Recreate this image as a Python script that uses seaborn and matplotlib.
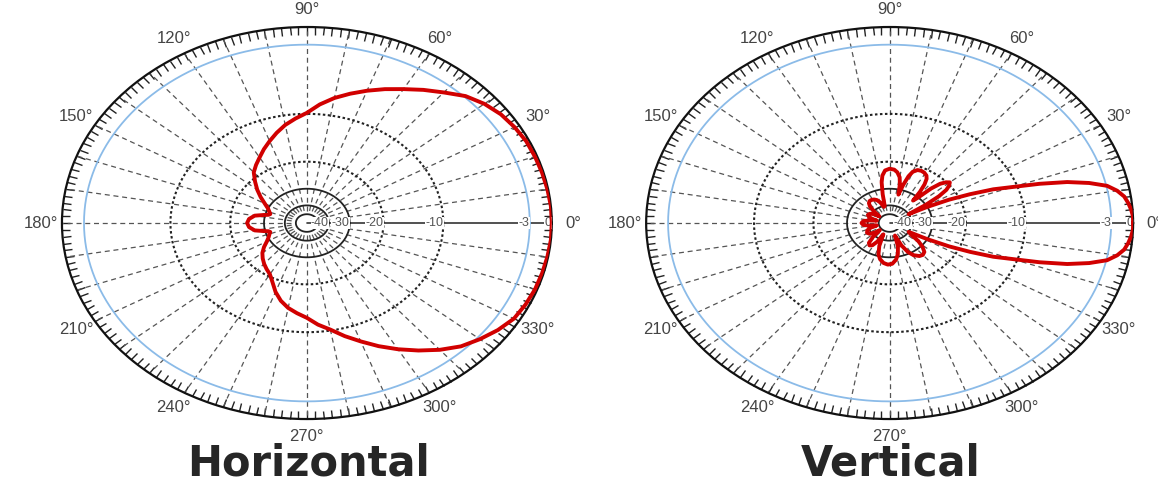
import numpy as np
import matplotlib
matplotlib.use("Agg")
import matplotlib.pyplot as plt
import seaborn as sns

# radial scale of the chart: dB value -> fraction of the outer radius (read off the rings)
# the last point only serves the angle labels outside the rim
scale_db = [-60, -50, -40, -30, -20, -10, -3, 0, 10]
scale_r = [0.0, 0.045, 0.09, 0.175, 0.313, 0.557, 0.91, 1.0, 1.3]

ring_db = [-40, -30, -20, -10, -3, 0]
ring_labels = ["-40", "-30", "-20", "-10", "-3", "0"]
angle_deg = [0, 30, 60, 90, 120, 150, 180, 210, 240, 270, 300, 330]
angle_labels = ["0°", "30°", "60°", "90°", "120°", "150°",
                "180°", "210°", "240°", "270°", "300°", "330°"]
titles = ["Horizontal", "Vertical"]

# horizontal pattern (degrees, dB)
horiz_deg = [0, 5, 10, 15, 20, 25, 30, 35, 40, 45, 50, 55, 60, 65, 70, 75, 80,
             85, 90, 95, 100, 105, 110, 115, 120, 125, 130, 135, 140, 145, 150,
             155, 160, 163, 165, 167, 170, 175, 180, 185, 190, 193, 195, 197,
             200, 205, 210, 215, 220, 225, 230, 235, 240, 245, 250, 255, 260,
             265, 270, 275, 280, 285, 290, 295, 300, 305, 310, 315, 320, 325,
             330, 335, 340, 345, 350, 355, 360]
horiz_db = [0, 0, -0.1, -0.2, -0.3, -0.4, -0.7, -1.1, -1.8, -2.8, -3.8, -4.6,
            -5.4, -6.1, -6.8, -7.5, -8.2, -9, -9.9, -10.9, -12, -13.3, -14.6,
            -15.8, -17, -18, -19, -21, -23.5, -26, -28.3, -30, -31.5, -32.2,
            -31.5, -29.5, -27, -25.5, -25, -25.5, -27, -29.5, -31.5, -32.2,
            -31.5, -30.3, -29, -27.2, -25.5, -24.2, -23, -21.9, -20.8, -19.2,
            -17.5, -16, -14.8, -13.9, -13, -11.5, -10.2, -9.2, -8.3, -7.3, -6.3,
            -5.3, -4.3, -3.4, -2.6, -1.6, -0.8, -0.5, -0.3, -0.2, -0.1, 0, 0]

# vertical pattern (degrees, dB)
vert_deg = [0, 2, 4, 6, 8, 10, 12, 14, 16, 18, 20, 22, 24, 26, 28, 30,
            32, 34, 36, 38, 40, 42, 44, 46, 48, 50,
            52, 54, 56, 58, 61, 64, 67, 70, 72, 74, 76,
            78, 80, 83, 86, 90, 94, 97, 99, 101, 103,
            106, 110, 114, 118, 122, 126, 130, 134, 138, 141,
            145, 150, 155, 160, 164, 167,
            171, 175, 180, 185, 189, 193,
            197, 202, 208, 214, 219, 222,
            226, 230, 234, 238, 242, 246,
            250, 254, 258, 263, 268, 273, 278, 282, 286, 289,
            293, 297, 301, 306, 310, 314, 318, 322, 326, 330,
            332, 334, 336, 338, 340, 342, 344, 346, 348, 350, 352, 354, 356, 358, 360]
vert_db = [0, 0, -0.2, -0.5, -0.9, -1.7, -2.9, -4.3, -6, -8.2, -10.8, -14, -18, -23, -30, -40,
           -30, -25, -21.8, -20.2, -19.6, -20.2, -21.8, -25, -30, -33,
           -28, -25, -23, -22, -21.4, -21.2, -21.4, -22.5, -24.5, -28, -33,
           -28, -25.5, -23.8, -22.9, -22.6, -23.2, -25, -27.5, -33, -40,
           -41, -37.5, -35.5, -34.6, -34.2, -34.2, -35, -37, -42, -48,
           -42, -39.5, -39, -40, -44, -48,
           -41, -37.8, -37, -37.8, -41, -48,
           -42, -39, -38.2, -39, -43, -48,
           -39, -35, -34, -34.8, -38, -46,
           -36, -31, -29, -27.8, -27.3, -27.6, -29, -31.5, -36, -45,
           -36, -31, -28.8, -27.6, -27.3, -27.8, -29.5, -33, -38, -40,
           -30, -23, -18, -14, -10.8, -8.2, -6, -4.3, -2.9, -1.7, -0.9, -0.5, -0.2, 0, 0]

assert len(horiz_deg) == len(horiz_db)
assert len(vert_deg) == len(vert_db)


def fwd(v):
    return np.interp(np.asarray(v, dtype=float), scale_db, scale_r)


def inv(v):
    return np.interp(np.asarray(v, dtype=float), scale_r, scale_db)


sns.set_theme(style="white")
plt.rcParams["font.family"] = ["Liberation Sans", "DejaVu Sans"]

fig = plt.figure(figsize=(11.58, 4.86), dpi=100)
fig.patch.set_facecolor("white")

boxes = [[0.0535, 0.1378, 0.423, 0.8066], [0.558, 0.1378, 0.4205, 0.8066]]
patterns = [(horiz_deg, horiz_db), (vert_deg, vert_db)]
title_x = [0.266, 0.769]

full = np.linspace(0, 2 * np.pi, 721)
spokes = np.deg2rad(np.arange(10, 360, 10))

for box, (deg, db), title, tx in zip(boxes, patterns, titles, title_x):
    ax = fig.add_axes(box, projection="polar")
    ax.set_aspect("auto")
    ax.set_rscale("function", functions=(fwd, inv))
    ax.set_rlim(-60, 0)

    # dashed spokes every 10 degrees, solid one along 0 degrees
    for t in spokes:
        ax.plot([t, t], [-46, 0], color="#555555", ls=(0, (4, 3)), lw=0.9)
    ax.plot([0, 0], [-60, 0], color="#333333", lw=1.2)

    # rings
    ax.plot(full, np.full_like(full, -50), color="#222222", lw=1.3)
    ax.plot(full, np.full_like(full, -40), color="#222222", lw=1.3)
    ax.plot(full, np.full_like(full, -30), color="#222222", lw=1.3)
    ax.plot(full, np.full_like(full, -20), color="#222222", lw=1.5, ls=(0, (1.2, 1.2)))
    ax.plot(full, np.full_like(full, -10), color="#222222", lw=1.5, ls=(0, (1.2, 1.2)))
    ax.plot(full, np.full_like(full, -3), color="#8bbbe8", lw=1.3)

    sns.lineplot(x=np.deg2rad(deg), y=db, ax=ax, sort=False, estimator=None,
                 color="#d10000", lw=2.8, zorder=5)
    ax.set_xlabel("")
    ax.set_ylabel("")
    ax.set_rlim(-60, 0)

    # rim ticks every 2 degrees
    ax.set_xticks(np.deg2rad(np.arange(0, 360, 10)))
    ax.set_xticklabels([])
    ax.set_xticks(np.deg2rad(np.arange(0, 360, 2)), minor=True)
    ax.xaxis.grid(False)
    ax.tick_params(axis="x", which="both", bottom=False, top=True,
                   labelbottom=False, labeltop=False,
                   direction="in", length=6, width=1, color="#222222")
    ax.set_yticks([])
    ax.spines["polar"].set_color("#111111")
    ax.spines["polar"].set_linewidth(1.6)

    for a, lab in zip(angle_deg, angle_labels):
        ax.text(np.deg2rad(a), 2.9, lab, ha="center", va="center", fontsize=12,
                color="#444444", clip_on=False)

    for r, lab in zip(ring_db, ring_labels):
        ax.text(0, r, lab, ha="right", va="center", fontsize=9, color="#555555",
                bbox=dict(fc="white", ec="none", pad=0.3), zorder=4)

    fig.text(tx, 0.0226, title, ha="center", va="baseline", fontsize=30,
             fontweight="bold", color="#262626", family=["DejaVu Sans"])

fig.savefig("out.png", dpi=100, facecolor="white")
